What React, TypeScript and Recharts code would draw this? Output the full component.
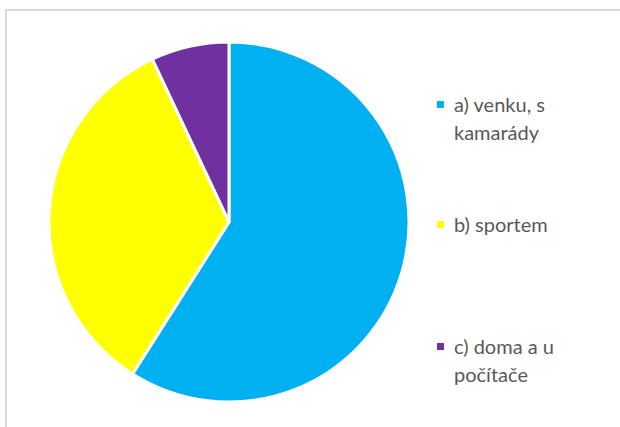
import { PieChart, Pie, Cell, Legend } from 'recharts'

const categories = ['a) venku, s kamarády', 'b) sportem', 'c) doma a u počítače']
const values = [59, 34, 7]
const colors = ['#00B0F0', '#FFFF00', '#7030A0']

const data = categories.map((name, i) => ({ name, value: values[i] }))

// vertical offsets of each legend entry, matching the reference layout
const itemTops = [90, 210, 332]

const LegendBox = () => (
	<div style={{ position: 'relative', width: 170, height: 427 }}>
		{categories.map((name, i) => (
			<div
				key={name}
				style={{
					position: 'absolute',
					top: itemTops[i],
					left: 0,
					display: 'flex',
					alignItems: 'flex-start',
					width: 150,
				}}
			>
				<span
					style={{
						display: 'inline-block',
						width: 7,
						height: 7,
						background: colors[i],
						marginTop: 11,
						marginRight: 10,
						flexShrink: 0,
					}}
				/>
				<span style={{ fontSize: 20, lineHeight: '28px', color: '#595959' }}>{name}</span>
			</div>
		))}
	</div>
)

const App = () => {
	return (
		<div style={{ position: 'absolute', left: 0, top: 0, width: 620, height: 427, background: '#fff', overflow: 'hidden', fontFamily: 'Lato, sans-serif' }}>
			<div
				style={{
					position: 'absolute',
					left: 5,
					top: 9,
					width: 640,
					height: 440,
					border: '2px solid #d9d9d9',
				}}
			/>
			<PieChart
				width={620}
				height={427}
				margin={{ top: 0, right: 0, bottom: 0, left: 0 }}
				style={{ position: 'absolute', left: 0, top: 0 }}
			>
				<Pie
					data={data}
					dataKey='value'
					nameKey='name'
					cx={229}
					cy={222}
					outerRadius={180}
					startAngle={90}
					endAngle={-270}
					stroke='#fff'
					strokeWidth={3}
					isAnimationActive={false}
				>
					{data.map((d, i) => (
						<Cell key={d.name} fill={colors[i]} />
					))}
				</Pie>
				<Legend
					layout='vertical'
					verticalAlign='top'
					align='right'
					wrapperStyle={{ left: 437, top: 0 }}
					content={() => <LegendBox />}
				/>
			</PieChart>
		</div>
	)
}

export default App
